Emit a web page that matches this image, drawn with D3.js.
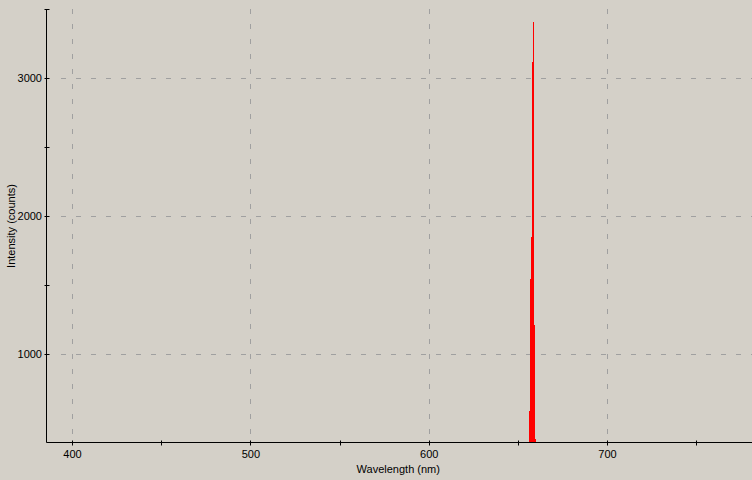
<!DOCTYPE html>
<html>
<head>
<meta charset="utf-8">
<script src="https://cdn.jsdelivr.net/npm/d3@7"></script>
<style>
  html, body { margin: 0; padding: 0; background: #d4d0c8; }
  svg { display: block; font-family: "Liberation Sans", Arial, sans-serif; font-size: 11px; }
  .grid line { stroke: #a0a0a0; stroke-dasharray: 5,10; }
</style>
</head>
<body>
<script>
// spectrum samples around the emission line (nm / counts)
var wavelengths = [655.70, 656.26, 656.82, 657.38, 657.94, 658.50, 659.06, 659.62, 660.18];
var intensities = [300, 591, 1547, 1851, 3122, 3409, 1214, 388, 300];

var xTicks = [400, 500, 600, 700];
var xMinor = [450, 550, 650, 750];
var yTicks = [1000, 2000, 3000];
var yMinor = [1500, 2500];

var width = 752, height = 480;
// note: "top" is reserved on window, so plot edges live in an object
var plot = { left: 46.5, right: 752, top: 9.5, bottom: 442.5 };

var svg = d3.select("body").append("svg")
    .attr("width", width)
    .attr("height", height);

var x = d3.scaleLinear().domain([385.4, 781]).range([plot.left, plot.right]);
var y = d3.scaleLinear().domain([362.3, 3500]).range([plot.bottom, plot.top]);

function px(v) { return Math.round(v - 0.5) + 0.5; }

// dashed grid
var grid = svg.append("g").attr("class", "grid");
grid.selectAll("line.gx")
    .data(xTicks)
    .enter().append("line").attr("class", "gx")
    .attr("x1", function(d) { return px(x(d)); })
    .attr("x2", function(d) { return px(x(d)); })
    .attr("y1", plot.top - 0.5)
    .attr("y2", plot.bottom);
grid.selectAll("line.gy")
    .data(yTicks)
    .enter().append("line").attr("class", "gy")
    .attr("x1", plot.left + 14.5)
    .attr("x2", plot.right)
    .attr("y1", function(d) { return px(y(d)); })
    .attr("y2", function(d) { return px(y(d)); });

// spectrum bars, one per pixel column
svg.append("clipPath").attr("id", "plotclip")
    .append("rect")
    .attr("x", plot.left).attr("y", plot.top - 0.5)
    .attr("width", plot.right - plot.left).attr("height", plot.bottom - plot.top);

var step = 0.56;
svg.append("g")
    .attr("clip-path", "url(#plotclip)")
    .selectAll("rect")
    .data(wavelengths)
    .enter().append("rect")
    .attr("shape-rendering", "crispEdges")
    .attr("fill", "#ff0000")
    .attr("x", function(d) { return x(d - step / 2); })
    .attr("width", function(d) { return x(d + step / 2) - x(d - step / 2); })
    .attr("y", function(d, i) { return y(intensities[i]); })
    .attr("height", function(d, i) { return Math.max(0, plot.bottom - y(intensities[i])); });

// axes
var axes = svg.append("g").attr("stroke", "#000").attr("stroke-width", 1);
axes.append("line").attr("x1", plot.left).attr("x2", plot.left).attr("y1", plot.top - 0.5).attr("y2", plot.bottom);
axes.append("line").attr("x1", plot.left - 2).attr("x2", plot.left + 3).attr("y1", plot.top).attr("y2", plot.top);
axes.append("line").attr("x1", plot.left).attr("x2", plot.right).attr("y1", plot.bottom).attr("y2", plot.bottom);

axes.selectAll("line.tx")
    .data(xTicks.concat(xMinor))
    .enter().append("line").attr("class", "tx")
    .attr("x1", function(d) { return px(x(d)); })
    .attr("x2", function(d) { return px(x(d)); })
    .attr("y1", plot.bottom - 2)
    .attr("y2", plot.bottom + 3);

axes.selectAll("line.ty")
    .data(yTicks.concat(yMinor))
    .enter().append("line").attr("class", "ty")
    .attr("x1", plot.left - 2)
    .attr("x2", plot.left + 3)
    .attr("y1", function(d) { return px(y(d)); })
    .attr("y2", function(d) { return px(y(d)); });

// tick labels
svg.append("g").selectAll("text")
    .data(xTicks)
    .enter().append("text")
    .attr("x", function(d) { return x(d); })
    .attr("y", 458)
    .attr("text-anchor", "middle")
    .text(function(d) { return d; });

svg.append("g").selectAll("text")
    .data(yTicks)
    .enter().append("text")
    .attr("x", 42)
    .attr("y", function(d) { return y(d) + 4; })
    .attr("text-anchor", "end")
    .text(function(d) { return d; });

// axis titles
svg.append("text")
    .attr("x", (plot.left + plot.right) / 2 - 1)
    .attr("y", 473)
    .attr("text-anchor", "middle")
    .text("Wavelength (nm)");

svg.append("text")
    .attr("transform", "translate(15," + ((plot.top + plot.bottom) / 2) + ") rotate(-90)")
    .attr("text-anchor", "middle")
    .text("Intensity (counts)");
</script>
</body>
</html>
